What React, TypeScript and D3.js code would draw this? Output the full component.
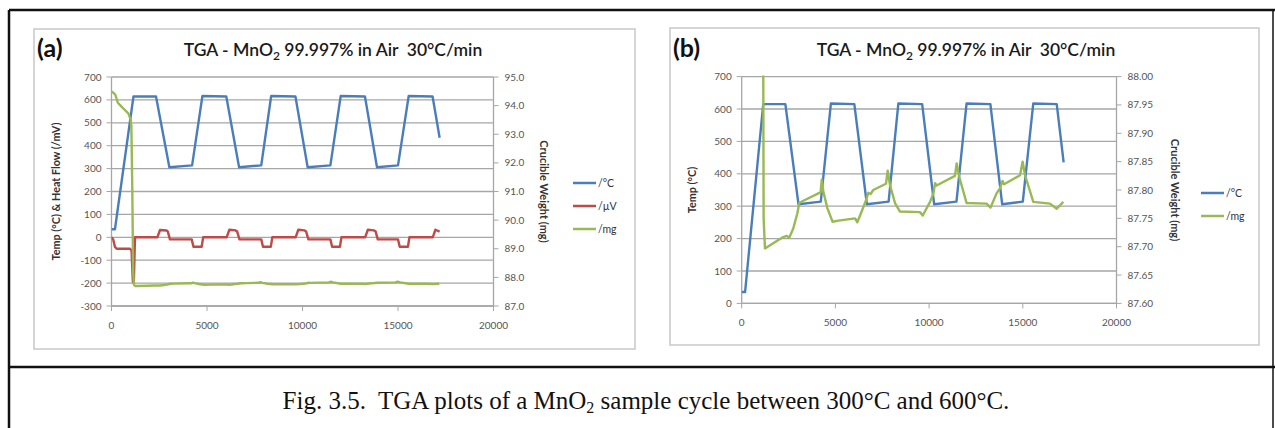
import * as d3 from 'd3';
import React from 'react';

// temperature program (s, °C)
const tempTime = [0, 180, 1150, 2330, 3030, 4220, 4760, 6010, 6680, 7840, 8360, 9630, 10270, 11460, 12000, 13270, 13900, 15000, 15560, 16810, 17180];
const tempC = [35, 35, 615, 615, 306, 314, 617, 615, 306, 314, 617, 615, 306, 314, 617, 615, 306, 314, 617, 615, 435];

// heat flow (s, µV)
const flowTime = [0, 90, 180, 270, 970, 1050, 1120, 1170, 1230, 2400, 2540, 2880, 2950, 3060, 4200, 4290, 4720, 4800, 6030, 6170, 6500, 6580, 6700, 7840, 7930, 8340, 8420, 9640, 9780, 10110, 10190, 10310, 11460, 11550, 11960, 12040, 13280, 13420, 13750, 13830, 13940, 15000, 15090, 15520, 15600, 16820, 16960, 17180];
const flowUV = [0, -10, -42, -50, -50, -58, -195, -195, 0, 0, 32, 30, 25, -9, -9, -41, -41, 0, 0, 33, 30, 25, -9, -9, -41, -41, 0, 0, 33, 30, 25, -9, -9, -41, -41, 0, 0, 33, 30, 25, -9, -9, -41, -41, 0, 0, 33, 25];

// crucible weight (s, mg)
const massTime = [0, 100, 200, 330, 450, 620, 880, 1000, 1040, 1090, 1130, 1170, 1240, 1870, 2220, 2400, 2540, 2750, 2970, 3070, 3290, 4090, 4210, 4270, 4360, 4570, 4850, 5160, 6050, 6170, 6580, 6760, 6880, 7020, 7700, 7790, 7910, 8180, 8450, 9510, 9660, 10050, 10230, 10320, 10400, 11380, 11470, 11610, 12000, 13070, 13280, 13600, 13780, 13920, 14000, 14850, 14990, 15120, 15560, 16450, 16810, 17160];
const massMg = [94.49, 94.45, 94.38, 94.1, 94.02, 93.9, 93.73, 93.52, 93.3, 91.0, 88.3, 87.75, 87.697, 87.71, 87.717, 87.719, 87.716, 87.732, 87.759, 87.777, 87.781, 87.794, 87.796, 87.818, 87.797, 87.768, 87.744, 87.746, 87.75, 87.743, 87.777, 87.795, 87.793, 87.8, 87.811, 87.834, 87.809, 87.777, 87.762, 87.761, 87.755, 87.779, 87.794, 87.812, 87.808, 87.825, 87.847, 87.823, 87.777, 87.776, 87.769, 87.794, 87.803, 87.816, 87.81, 87.826, 87.85, 87.826, 87.779, 87.776, 87.767, 87.779];

const xTicks = [0, 5000, 10000, 15000, 20000];
const leftTicksA = [-300, -200, -100, 0, 100, 200, 300, 400, 500, 600, 700];
const rightTicksA = [87, 88, 89, 90, 91, 92, 93, 94, 95];
const leftTicksB = [0, 100, 200, 300, 400, 500, 600, 700];
const rightTicksB = [87.6, 87.65, 87.7, 87.75, 87.8, 87.85, 87.9, 87.95, 88.0];

const BLUE = '#4a7ebb';
const RED = '#be4b48';
const GREEN = '#98b954';
const GRID = '#a6a6a6';
const FONT = 'Lato, "Open Sans", sans-serif';

type Series = { name: string; color: string; t: number[]; v: number[]; right: boolean };

type PanelProps = {
  id: string;
  tag: string;
  box: [number, number, number, number];
  plot: { l: number; r: number; t: number; b: number };
  leftDomain: [number, number];
  leftTicks: number[];
  rightDomain: [number, number];
  rightTicks: number[];
  rightFmt: string;
  leftTitle: string;
  leftTitleX: number;
  rightTitleX: number;
  series: Series[];
  legendX: number;
  legendY: number[];
  titleX: number;
};

const Title = ({ x }: { x: number }) => (
  <text
    x={x}
    y={56}
    textAnchor="middle"
    fontFamily={FONT}
    fontSize={17.5}
    fontWeight={600}
    fill="#1a1a1a"
    style={{ whiteSpace: 'pre' }}
  >
    TGA - MnO<tspan dy={4} fontSize={12}>2</tspan>
    <tspan dy={-4}>{' 99.997% in Air  30°C/min'}</tspan>
  </text>
);

const Panel = (p: PanelProps) => {
  const x = d3.scaleLinear().domain([0, 20000]).range([p.plot.l, p.plot.r]);
  const yl = d3.scaleLinear().domain(p.leftDomain).range([p.plot.b, p.plot.t]);
  const yr = d3.scaleLinear().domain(p.rightDomain).range([p.plot.b, p.plot.t]);
  const fmt = d3.format(p.rightFmt);
  const midY = (p.plot.t + p.plot.b) / 2;
  const [bx, by, bw, bh] = p.box;

  return (
    <g>
      <defs>
        <clipPath id={`clip-${p.id}`}>
          <rect x={p.plot.l} y={p.plot.t - 1} width={p.plot.r - p.plot.l} height={p.plot.b - p.plot.t + 2} />
        </clipPath>
      </defs>
      <rect x={bx} y={by} width={bw} height={bh} fill="#fff" stroke="#c8c8c8" strokeWidth={1.5} />
      <text x={bx + 3} y={57} fontFamily={FONT} fontSize={25} fontWeight="bold" fill="#111">
        {p.tag}
      </text>
      <Title x={p.titleX} />

      {/* gridlines */}
      {p.leftTicks.map((t) => (
        <line key={`g${t}`} x1={p.plot.l} x2={p.plot.r} y1={yl(t)} y2={yl(t)} stroke={GRID} strokeWidth={1.3} />
      ))}

      {/* axes */}
      <line x1={p.plot.l} x2={p.plot.l} y1={p.plot.t} y2={p.plot.b} stroke={GRID} strokeWidth={1.3} />
      <line x1={p.plot.r} x2={p.plot.r} y1={p.plot.t} y2={p.plot.b} stroke={GRID} strokeWidth={1.3} />
      <line x1={p.plot.l} x2={p.plot.r} y1={p.plot.b} y2={p.plot.b} stroke={GRID} strokeWidth={1.3} />

      {p.leftTicks.map((t) => (
        <g key={`l${t}`}>
          <line x1={p.plot.l - 5} x2={p.plot.l} y1={yl(t)} y2={yl(t)} stroke={GRID} />
          <text x={p.plot.l - 10} y={yl(t) + 3.5} textAnchor="end" fontFamily={FONT} fontSize={10} fill="#555">
            {t}
          </text>
        </g>
      ))}
      {p.rightTicks.map((t) => (
        <g key={`r${t}`}>
          <line x1={p.plot.r} x2={p.plot.r + 5} y1={yr(t)} y2={yr(t)} stroke={GRID} />
          <text x={p.plot.r + 11} y={yr(t) + 3.5} fontFamily={FONT} fontSize={10} fill="#555">
            {fmt(t)}
          </text>
        </g>
      ))}
      {xTicks.map((t) => (
        <g key={`x${t}`}>
          <line x1={x(t)} x2={x(t)} y1={p.plot.b} y2={p.plot.b + 5} stroke={GRID} />
          <text x={x(t)} y={p.plot.b + 23} textAnchor="middle" fontFamily={FONT} fontSize={10} fill="#555">
            {t}
          </text>
        </g>
      ))}

      <text
        transform={`translate(${p.leftTitleX},${midY}) rotate(-90)`}
        textAnchor="middle"
        fontFamily={FONT}
        fontSize={10.8}
        fontWeight="bold"
        fill="#333"
      >
        {p.leftTitle}
      </text>
      <text
        transform={`translate(${p.rightTitleX},${midY}) rotate(90)`}
        textAnchor="middle"
        fontFamily={FONT}
        fontSize={11}
        fontWeight="bold"
        fill="#333"
      >
        Crucible Weight (mg)
      </text>

      {/* series */}
      <g clipPath={`url(#clip-${p.id})`}>
        {p.series.map((s) => {
          const y = s.right ? yr : yl;
          const line = d3
            .line<number>()
            .x((_, i) => x(s.t[i]))
            .y((d) => y(d));
          return (
            <path
              key={s.name}
              d={line(s.v) || ''}
              fill="none"
              stroke={s.color}
              strokeWidth={2.4}
              strokeLinejoin="round"
            />
          );
        })}
      </g>

      {/* legend */}
      {p.series.map((s, i) => (
        <g key={`lg${s.name}`}>
          <line
            x1={p.legendX}
            x2={p.legendX + 23}
            y1={p.legendY[i]}
            y2={p.legendY[i]}
            stroke={s.color}
            strokeWidth={2.5}
          />
          <text x={p.legendX + 25} y={p.legendY[i] + 3.5} fontFamily={FONT} fontSize={10.5} fill="#333">
            {s.name}
          </text>
        </g>
      ))}
    </g>
  );
};

const tempSeries: Series = { name: '/°C', color: BLUE, t: tempTime, v: tempC, right: false };
const flowSeries: Series = { name: '/µV', color: RED, t: flowTime, v: flowUV, right: false };
const massSeries: Series = { name: '/mg', color: GREEN, t: massTime, v: massMg, right: true };

export default function App() {
  return (
    <svg
      width={1275}
      height={428}
      style={{ position: 'absolute', left: 0, top: 0, background: '#fff' }}
    >
      <rect x={0} y={0} width={1275} height={428} fill="#fff" />
      <Panel
        id="a"
        tag="(a)"
        box={[34, 29, 601, 320]}
        plot={{ l: 111.5, r: 493.5, t: 77, b: 306 }}
        leftDomain={[-300, 700]}
        leftTicks={leftTicksA}
        rightDomain={[87, 95]}
        rightTicks={rightTicksA}
        rightFmt=".1f"
        leftTitle="Temp (°C) & Heat Flow (/mV)"
        leftTitleX={60}
        rightTitleX={540}
        series={[tempSeries, flowSeries, massSeries]}
        legendX={573}
        legendY={[183, 206, 229]}
        titleX={333}
      />
      <Panel
        id="b"
        tag="(b)"
        box={[670, 28, 589, 317]}
        plot={{ l: 741.7, r: 1116.5, t: 76.6, b: 303.4 }}
        leftDomain={[0, 700]}
        leftTicks={leftTicksB}
        rightDomain={[87.6, 88.0]}
        rightTicks={rightTicksB}
        rightFmt=".2f"
        leftTitle="Temp (°C)"
        leftTitleX={696}
        rightTitleX={1171}
        series={[tempSeries, massSeries]}
        legendX={1201}
        legendY={[193, 216]}
        titleX={966}
      />

      {/* outer frame */}
      <line x1={9} x2={9} y1={10} y2={428} stroke="#111" strokeWidth={2.5} />
      <line x1={9} x2={1275} y1={10} y2={10} stroke="#111" strokeWidth={2.5} />
      <line x1={1273} x2={1273} y1={10} y2={428} stroke="#111" strokeWidth={1.5} />
      <line x1={9} x2={1275} y1={367} y2={367} stroke="#111" strokeWidth={2.5} />

      <text
        x={646}
        y={409}
        textAnchor="middle"
        fontFamily='"Liberation Serif", "Times New Roman", serif'
        fontSize={25}
        fill="#111"
        style={{ whiteSpace: 'pre' }}
      >
        Fig. 3.5.  TGA plots of a MnO<tspan dy={4} fontSize={16}>2</tspan>
        <tspan dy={-4}>{' sample cycle between 300°C and 600°C.'}</tspan>
      </text>
    </svg>
  );
}
